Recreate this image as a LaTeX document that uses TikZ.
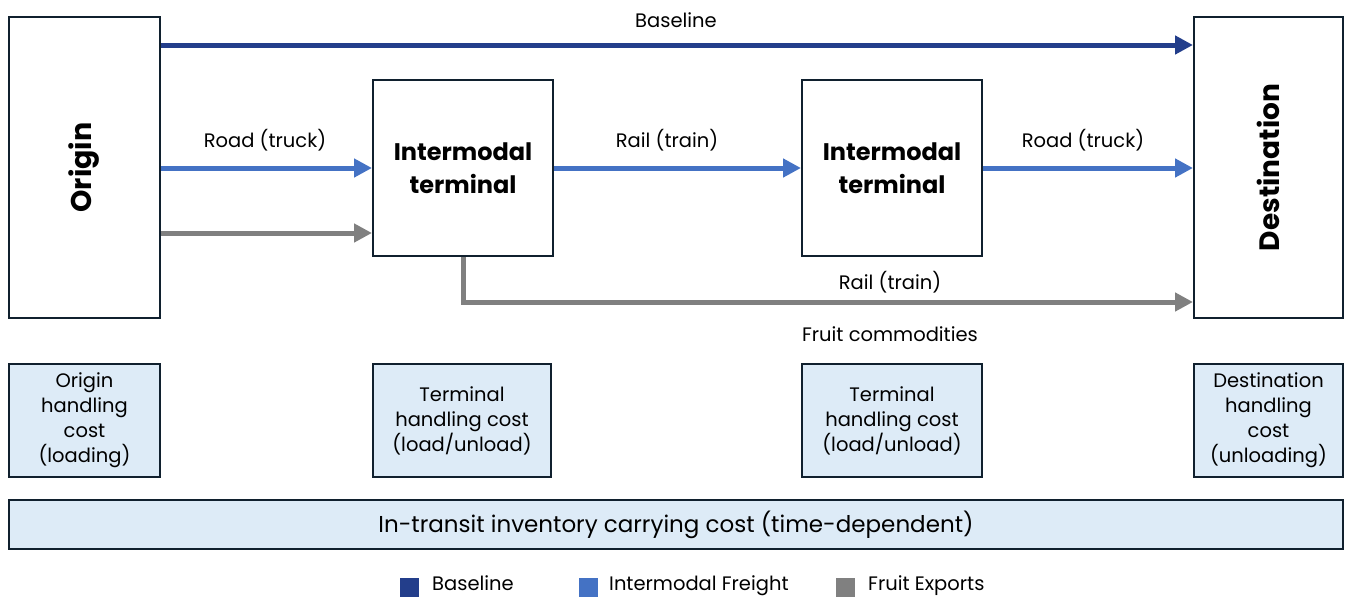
\documentclass[tikz,border=0pt]{standalone}
\usepackage{fontspec}
\setmainfont{Poppins}
\usepackage{tikz}
\usetikzlibrary{arrows.meta}
\usetikzlibrary{calc}

\definecolor{basecol}{HTML}{233E8B}
\definecolor{modecol}{HTML}{4472C4}
\definecolor{fruitcol}{HTML}{808080}
\definecolor{costcol}{HTML}{DDEBF7}
\definecolor{edgecol}{HTML}{10202E}

\begin{document}
\begin{tikzpicture}[
    x=1pt, y=-1pt,
    font=\fontsize{19.5}{24}\selectfont,
    % boxes
    place/.style={rectangle, draw=edgecol, line width=2pt, fill=white, inner sep=0pt},
    hub/.style={place, minimum width=180pt, minimum height=176pt, align=center,
                font=\fontsize{24}{33}\selectfont\bfseries},
    cost/.style={rectangle, draw=edgecol, line width=2pt, fill=costcol, inner sep=0pt,
                 minimum height=113pt, align=center, font=\fontsize{19.5}{25}\selectfont},
    % flows
    flow/.style={line width=5pt, -{Triangle[length=18pt,width=18pt]}},
    baseflow/.style={flow, draw=basecol, color=basecol},
    modeflow/.style={flow, draw=modecol, color=modecol},
    fruitflow/.style={flow, draw=fruitcol, color=fruitcol},
    lbl/.style={inner sep=0pt},
    key/.style={rectangle, minimum size=19pt, inner sep=0pt},
]
\useasboundingbox (0,0) rectangle (1347,597);

% =========================================================
% Main chain: origin -> terminals -> destination
% =========================================================
\node[place, minimum width=151pt, minimum height=301pt] (origin) at (84.5,167.5)
    {\rotatebox{90}{\fontsize{28.5}{34}\selectfont\bfseries Origin}};
\node[place, minimum width=149pt, minimum height=301pt] (dest) at (1268.5,167.5)
    {\rotatebox{90}{\fontsize{28}{34}\selectfont\bfseries Destination}};

\node[hub] (term1) at (463,168) {Intermodal\\terminal};
\node[hub] (term2) at (892,168) {Intermodal\\terminal};

% baseline (direct)
\draw[baseflow] (origin.east |- 0,45) -- (dest.west |- 0,45);
\node[lbl] (baselbl) at (676,20) {Baseline};

% intermodal freight
\draw[modeflow] (origin.east |- term1.west) -- (term1.west);
\draw[modeflow] (term1.east) -- (term2.west);
\draw[modeflow] (term2.east) -- (dest.west |- term2.east);
\node[lbl] (road1lbl) at (265,140) {Road (truck)};
\node[lbl] (rail1lbl) at (667,140) {Rail (train)};
\node[lbl] (road2lbl) at (1083,140) {Road (truck)};

% fruit exports
\draw[fruitflow] (origin.east |- 0,233) -- (term1.west |- 0,233);
\draw[fruitflow] (term1.south) -- (term1.south |- 0,302) -- (dest.west |- 0,302);
\node[lbl] (rail2lbl) at (890,282) {Rail (train)};
\node[lbl] (fruitlbl) at (890,334) {Fruit commodities};

% =========================================================
% Cost components
% =========================================================
\node[cost, minimum width=151pt] (ocost) at (84.5,420.5) {Origin\\handling\\cost\\(loading)};
\node[cost, minimum width=178pt] (tcost1) at (462,420.5) {Terminal\\handling cost\\(load/unload)};
\node[cost, minimum width=180pt] (tcost2) at (892,420.5) {Terminal\\handling cost\\(load/unload)};
\node[cost, minimum width=149pt] (dcost) at (1268.5,420.5) {Destination\\handling\\cost\\(unloading)};

\node[cost, minimum width=1334pt, minimum height=49pt, font=\fontsize{23}{28}\selectfont]
    (transit) at (676,524.5) {In-transit inventory carrying cost (time-dependent)};

% =========================================================
% Legend
% =========================================================
\node[key, fill=basecol] (k1) at (409,587.5) {};
\node[key, fill=modecol] (k2) at (588,587.5) {};
\node[key, fill=fruitcol] (k3) at (845,587.5) {};
\node[lbl, anchor=base west] (k1lbl) at (432,590) {Baseline};
\node[lbl, anchor=base west] (k2lbl) at (609,590) {Intermodal Freight};
\node[lbl, anchor=base west] (k3lbl) at (868,590) {Fruit Exports};

\end{tikzpicture}
\end{document}
